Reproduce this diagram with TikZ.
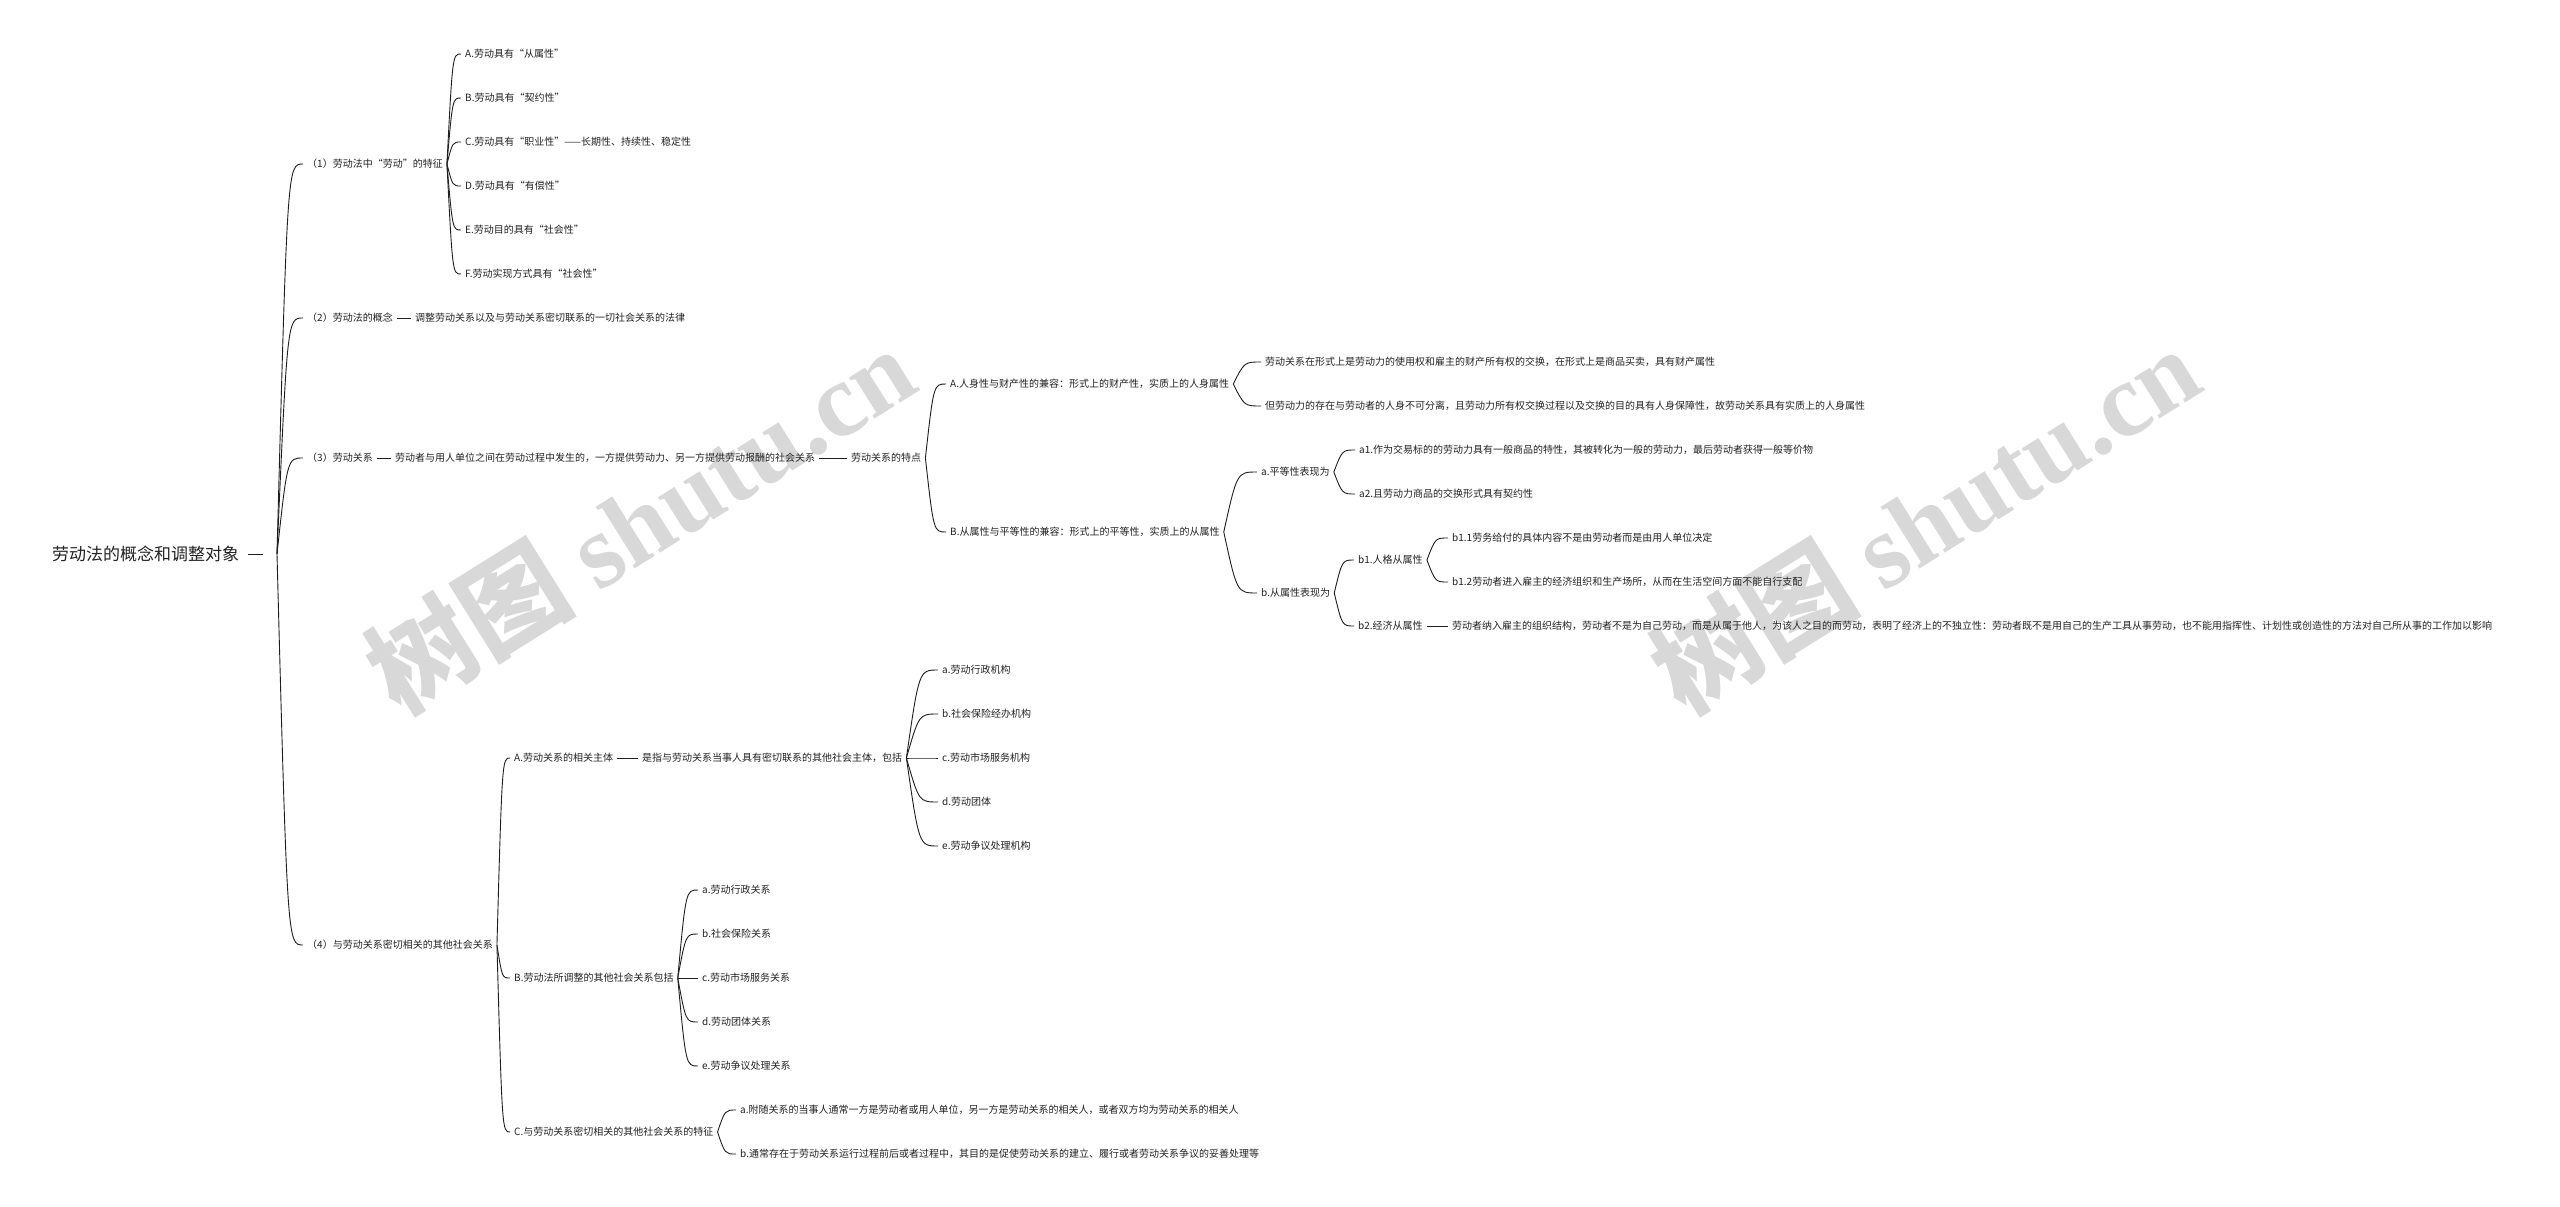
\documentclass[tikz,border=0pt]{standalone}
\usepackage{fontspec}
\newfontfamily\cjk{Noto Sans CJK SC}
\newfontfamily\wmser{Liberation Serif}
\usetikzlibrary{calc}
\definecolor{txt}{RGB}{35,35,35}
\definecolor{lnc}{RGB}{30,30,30}
\definecolor{wmc}{RGB}{216,216,216}
\tikzset{
 lf/.style={font=\cjk\fontsize{10}{12}\selectfont, anchor=west, inner xsep=4pt, inner ysep=2pt, text=txt},
 rootst/.style={font=\cjk\fontsize{17}{20}\selectfont, anchor=west, inner xsep=4pt, inner ysep=2pt, text=txt},
 ln/.style={draw=lnc, line width=0.9pt},
 wmk/.style={text=wmc, rotate=32, inner sep=0pt}
}
\newcommand\brc[2]{\draw[ln] let \p1=#1, \p2=#2 in (\p1) .. controls ({\x1+0.4*(\x2-\x1)},\y2) .. (\p2);}
\begin{document}
\begin{tikzpicture}[x=1pt,y=-1pt]
\useasboundingbox[fill=white] (0,0) rectangle (2560,1207);
% watermarks
\node[wmk] (wm1) at (640,519) {\cjk\bfseries\fontsize{105}{105}\selectfont 树图 \wmser\bfseries shutu.cn};
\node[wmk] (wm2) at (1925,519) {\cjk\bfseries\fontsize{105}{105}\selectfont 树图 \wmser\bfseries shutu.cn};
% root
\node[rootst] (root) at (48,554) {劳动法的概念和调整对象};
\coordinate (rd) at (263,554);
\coordinate (rj) at (277,554);
% level 1
\node[lf] (n1) at (303,164) {（1）劳动法中“劳动”的特征};
\node[lf] (n2) at (303,318) {（2）劳动法的概念};
\node[lf] (n3) at (303,458) {（3）劳动关系};
\node[lf] (n4) at (303,945) {（4）与劳动关系密切相关的其他社会关系};
% (1) children
\node[lf] (c1a) at (461,54) {A.劳动具有“从属性”};
\node[lf] (c1b) at (461,98) {B.劳动具有“契约性”};
\node[lf] (c1c) at (461,142) {C.劳动具有“职业性”——长期性、持续性、稳定性};
\node[lf] (c1d) at (461,186) {D.劳动具有“有偿性”};
\node[lf] (c1e) at (461,230) {E.劳动目的具有“社会性”};
\node[lf] (c1f) at (461,274) {F.劳动实现方式具有“社会性”};
% (2)
\node[lf] (d2) at (411,318) {调整劳动关系以及与劳动关系密切联系的一切社会关系的法律};
% (3)
\node[lf] (d3) at (391,458) {劳动者与用人单位之间在劳动过程中发生的，一方提供劳动力、另一方提供劳动报酬的社会关系};
\node[lf] (tz) at (847,458) {劳动关系的特点};
\node[lf] (tA) at (946,384) {A.人身性与财产性的兼容：形式上的财产性，实质上的人身属性};
\node[lf] (tB) at (946,532) {B.从属性与平等性的兼容：形式上的平等性，实质上的从属性};
\node[lf] (tA1) at (1261,362) {劳动关系在形式上是劳动力的使用权和雇主的财产所有权的交换，在形式上是商品买卖，具有财产属性};
\node[lf] (tA2) at (1261,406) {但劳动力的存在与劳动者的人身不可分离，且劳动力所有权交换过程以及交换的目的具有人身保障性，故劳动关系具有实质上的人身属性};
\node[lf] (ba) at (1257,472) {a.平等性表现为};
\node[lf] (bb) at (1257,593) {b.从属性表现为};
\node[lf] (a1) at (1355,450) {a1.作为交易标的的劳动力具有一般商品的特性，其被转化为一般的劳动力，最后劳动者获得一般等价物};
\node[lf] (a2) at (1355,494) {a2.且劳动力商品的交换形式具有契约性};
\node[lf] (b1) at (1354,560) {b1.人格从属性};
\node[lf] (b2) at (1354,626) {b2.经济从属性};
\node[lf] (b11) at (1448,538) {b1.1劳务给付的具体内容不是由劳动者而是由用人单位决定};
\node[lf] (b12) at (1448,582) {b1.2劳动者进入雇主的经济组织和生产场所，从而在生活空间方面不能自行支配};
\node[lf] (b2t) at (1448,626) {劳动者纳入雇主的组织结构，劳动者不是为自己劳动，而是从属于他人，为该人之目的而劳动，表明了经济上的不独立性：劳动者既不是用自己的生产工具从事劳动，也不能用指挥性、计划性或创造性的方法对自己所从事的工作加以影响};
% (4)
\node[lf] (fA) at (510,758) {A.劳动关系的相关主体};
\node[lf] (fB) at (510,978) {B.劳动法所调整的其他社会关系包括};
\node[lf] (fC) at (510,1132) {C.与劳动关系密切相关的其他社会关系的特征};
\node[lf] (fAd) at (638,758) {是指与劳动关系当事人具有密切联系的其他社会主体，包括};
\node[lf] (ga) at (938,670) {a.劳动行政机构};
\node[lf] (gb) at (938,714) {b.社会保险经办机构};
\node[lf] (gc) at (938,758) {c.劳动市场服务机构};
\node[lf] (gd) at (938,802) {d.劳动团体};
\node[lf] (ge) at (938,846) {e.劳动争议处理机构};
\node[lf] (ha) at (698,890) {a.劳动行政关系};
\node[lf] (hb) at (698,934) {b.社会保险关系};
\node[lf] (hc) at (698,978) {c.劳动市场服务关系};
\node[lf] (hd) at (698,1022) {d.劳动团体关系};
\node[lf] (he) at (698,1066) {e.劳动争议处理关系};
\node[lf] (ka) at (736,1110) {a.附随关系的当事人通常一方是劳动者或用人单位，另一方是劳动关系的相关人，或者双方均为劳动关系的相关人};
\node[lf] (kb) at (736,1154) {b.通常存在于劳动关系运行过程前后或者过程中，其目的是促使劳动关系的建立、履行或者劳动关系争议的妥善处理等};
% connectors
\draw[ln] ([xshift=5pt]root.east) -- (rd);
\brc{(rj)}{(n1.west)}
\brc{(rj)}{(n2.west)}
\brc{(rj)}{(n3.west)}
\brc{(rj)}{(n4.west)}
\brc{(n1.east)}{(c1a.west)}
\brc{(n1.east)}{(c1b.west)}
\brc{(n1.east)}{(c1c.west)}
\brc{(n1.east)}{(c1d.west)}
\brc{(n1.east)}{(c1e.west)}
\brc{(n1.east)}{(c1f.west)}
\draw[ln] (n2.east) -- (d2.west);
\draw[ln] (n3.east) -- (d3.west);
\draw[ln] (d3.east) -- (tz.west);
\brc{(tz.east)}{(tA.west)}
\brc{(tz.east)}{(tB.west)}
\brc{(tA.east)}{(tA1.west)}
\brc{(tA.east)}{(tA2.west)}
\brc{(tB.east)}{(ba.west)}
\brc{(tB.east)}{(bb.west)}
\brc{(ba.east)}{(a1.west)}
\brc{(ba.east)}{(a2.west)}
\brc{(bb.east)}{(b1.west)}
\brc{(bb.east)}{(b2.west)}
\brc{(b1.east)}{(b11.west)}
\brc{(b1.east)}{(b12.west)}
\draw[ln] (b2.east) -- (b2t.west);
\brc{(n4.east)}{(fA.west)}
\brc{(n4.east)}{(fB.west)}
\brc{(n4.east)}{(fC.west)}
\draw[ln] (fA.east) -- (fAd.west);
\brc{(fAd.east)}{(ga.west)}
\brc{(fAd.east)}{(gb.west)}
\brc{(fAd.east)}{(gc.west)}
\brc{(fAd.east)}{(gd.west)}
\brc{(fAd.east)}{(ge.west)}
\brc{(fB.east)}{(ha.west)}
\brc{(fB.east)}{(hb.west)}
\brc{(fB.east)}{(hc.west)}
\brc{(fB.east)}{(hd.west)}
\brc{(fB.east)}{(he.west)}
\brc{(fC.east)}{(ka.west)}
\brc{(fC.east)}{(kb.west)}
\end{tikzpicture}
\end{document}
